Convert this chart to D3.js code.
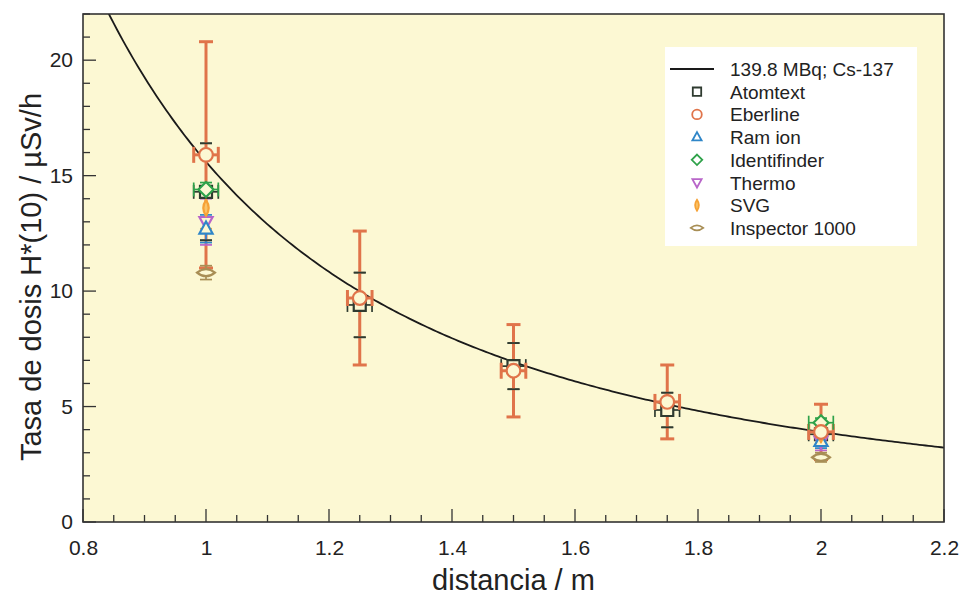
<!DOCTYPE html>
<html>
<head>
<meta charset="utf-8">
<script src="https://cdn.jsdelivr.net/npm/d3@7"></script>
<style>
  html, body { margin: 0; padding: 0; background: #ffffff; }
  svg { display: block; font-family: "Liberation Sans", Arial, Helvetica, sans-serif; }
</style>
</head>
<body>
<svg id="chart" width="971" height="601"></svg>
<script>
// ---------------- DATA ----------------
const distances = [1, 1.25, 1.5, 1.75, 2];
const instruments = ["Atomtext", "Eberline", "Ram ion", "Identifinder", "Thermo", "SVG", "Inspector 1000"];
const atomtextValues     = [14.3, 9.4, 6.75, 4.85, 3.8];
const atomtextErrors     = [2.1, 1.4, 1.0, 0.75, 0.5];
const eberlineValues     = [15.9, 9.7, 6.55, 5.2, 3.9];
const eberlineErrors     = [4.9, 2.9, 2.0, 1.6, 1.2];
const ramIonValues       = [12.7, null, null, null, 3.5];
const ramIonErrors       = [0.6, null, null, null, 0.3];
const identifinderValues = [14.4, null, null, null, 4.3];
const identifinderErrors = [0.3, null, null, null, 0.2];
const thermoValues       = [13.0, null, null, null, 3.5];
const thermoErrors       = [1.0, null, null, null, 0.4];
const svgValues          = [13.6, null, null, null, 3.8];
const svgErrors          = [0.9, null, null, null, 0.5];
const inspectorValues    = [10.8, null, null, null, 2.8];
const inspectorErrors    = [0.3, null, null, null, 0.2];
const distanceErrors     = [0.02, 0.02, 0, 0.02, 0, 0, 0]; // per instrument (m)
const curveLabel = "139.8 MBq; Cs-137";
const curveConstant = 15.6; // µSv·m²/h, inverse-square law fit
const xTicks = [0.8, 1, 1.2, 1.4, 1.6, 1.8, 2, 2.2];
const yTicks = [0, 5, 10, 15, 20];

// ---------------- STYLE ----------------
const colors = ["#2f3b30", "#e0744a", "#2f86c8", "#2fa24a", "#b865c9", "#f6a236", "#a88e55"];
const W = 971, H = 601;
const m = { left: 83, right: 944, top: 14, bottom: 522 };
const bg = "#fcf8d3";

const svg = d3.select("#chart");
svg.append("rect").attr("width", W).attr("height", H).attr("fill", "#fff");

const x = d3.scaleLinear().domain([0.8, 2.2]).range([m.left, m.right]);
const y = d3.scaleLinear().domain([0, 22]).range([m.bottom, m.top]);

svg.append("rect").attr("x", m.left).attr("y", m.top)
  .attr("width", m.right - m.left).attr("height", m.bottom - m.top)
  .attr("fill", bg);

// ticks (inward)
const minorX = d3.range(0.8, 2.2001, 0.05).map(v => +v.toFixed(2));
const minorY = d3.range(0, 22.001, 1);
const tg = svg.append("g").attr("stroke", "#333").attr("stroke-width", 1.3);
minorX.forEach(v => {
  const major = xTicks.some(t => Math.abs(t - v) < 1e-6);
  tg.append("line").attr("x1", x(v)).attr("x2", x(v))
    .attr("y1", m.bottom).attr("y2", m.bottom - (major ? 13 : 7));
});
minorY.forEach(v => {
  const major = yTicks.includes(v);
  tg.append("line").attr("y1", y(v)).attr("y2", y(v))
    .attr("x1", m.left).attr("x2", m.left + (major ? 13 : 7));
});

const xAxis = svg.append("g").attr("transform", `translate(0,${m.bottom})`)
  .call(d3.axisBottom(x).tickValues(xTicks).tickSize(0).tickPadding(18).tickFormat(d3.format("")));
const yAxis = svg.append("g").attr("transform", `translate(${m.left},0)`)
  .call(d3.axisLeft(y).tickValues(yTicks).tickSize(0).tickPadding(10).tickFormat(d3.format("")));
[xAxis, yAxis].forEach(a => {
  a.select(".domain").remove();
  a.selectAll("text").attr("font-size", 21).attr("fill", "#222")
    .attr("font-family", "'Liberation Sans', Arial, sans-serif");
});

svg.append("clipPath").attr("id", "clip").append("rect")
  .attr("x", m.left).attr("y", m.top).attr("width", m.right - m.left).attr("height", m.bottom - m.top);

// curve
const rs = d3.range(0.8, 2.2001, 0.005);
svg.append("path").attr("clip-path", "url(#clip)")
  .datum(rs)
  .attr("fill", "none").attr("stroke", "#1a1a1a").attr("stroke-width", 1.8)
  .attr("d", d3.line().x(r => x(r)).y(r => y(curveConstant / (r * r))));

function markerPath(i, s) {
  switch (i) {
    case 0: return `M${-s},${-s}H${s}V${s}H${-s}Z`;
    case 1: return d3.symbol(d3.symbolCircle, Math.PI * s * s * 1.3)();
    case 2: return `M0,${-s * 1.2}L${s * 1.1},${s * 0.8}L${-s * 1.1},${s * 0.8}Z`;
    case 3: return `M0,${-s * 1.25}L${s * 1.25},0L0,${s * 1.25}L${-s * 1.25},0Z`;
    case 4: return `M0,${s * 1.2}L${s * 1.1},${-s * 0.8}L${-s * 1.1},${-s * 0.8}Z`;
    case 5: return `M0,${-s * 1.3}Q${s * 0.9},0 0,${s * 1.3}Q${-s * 0.9},0 0,${-s * 1.3}Z`;
    case 6: return `M${-s * 1.5},0Q0,${-s * 1.2} ${s * 1.5},0Q0,${s * 1.2} ${-s * 1.5},0Z`;
  }
}

const valueSets = [atomtextValues, eberlineValues, ramIonValues, identifinderValues, thermoValues, svgValues, inspectorValues];
const errorSets = [atomtextErrors, eberlineErrors, ramIonErrors, identifinderErrors, thermoErrors, svgErrors, inspectorErrors];
const plot = svg.append("g").attr("clip-path", "url(#clip)");

// error bars layer (Atomtext bar under Eberline, its caps drawn later on top)
const barOrder = [0, 1, 6, 4, 2, 5, 3];
barOrder.forEach(i => {
  const g = plot.append("g").attr("stroke", colors[i]).attr("fill", "none");
  const sw = i === 1 ? 3 : 1.7;
  const cap = i === 1 ? 7 : 6;
  distances.forEach((d, j) => {
    const v = valueSets[i][j];
    if (v == null) return;
    const e = errorSets[i][j];
    const cx = x(d), cy = y(v);
    g.append("line").attr("x1", cx).attr("x2", cx).attr("y1", y(v + e)).attr("y2", y(v - e)).attr("stroke-width", sw);
    [v + e, v - e].forEach(t => {
      g.append("line").attr("x1", cx - cap).attr("x2", cx + cap).attr("y1", y(t)).attr("y2", y(t)).attr("stroke-width", sw);
    });
    const dx = distanceErrors[i];
    if (dx > 0) {
      g.append("line").attr("x1", x(d - dx)).attr("x2", x(d + dx)).attr("y1", cy).attr("y2", cy).attr("stroke-width", sw);
      [d - dx, d + dx].forEach(t => {
        g.append("line").attr("x1", x(t)).attr("x2", x(t)).attr("y1", cy - cap - 1).attr("y2", cy + cap + 1).attr("stroke-width", sw);
      });
    }
  });
});
// Atomtext caps on top of the Eberline bar
const capG = plot.append("g").attr("stroke", colors[0]).attr("stroke-width", 1.7);
distances.forEach((d, j) => {
  const v = atomtextValues[j], e = atomtextErrors[j];
  [v + e, v - e].forEach(t => {
    capG.append("line").attr("x1", x(d) - 6).attr("x2", x(d) + 6).attr("y1", y(t)).attr("y2", y(t));
  });
});

// markers layer
const markerOrder = [0, 6, 4, 2, 5, 3, 1];
markerOrder.forEach(i => {
  const g = plot.append("g").attr("stroke", colors[i]);
  distances.forEach((d, j) => {
    const v = valueSets[i][j];
    if (v == null) return;
    g.append("path").attr("transform", `translate(${x(d)},${y(v)})`)
      .attr("d", markerPath(i, 6)).attr("fill", i === 5 ? "#f9c46a" : bg).attr("stroke-width", 2.2);
  });
});

// frame
svg.append("rect").attr("x", m.left).attr("y", m.top)
  .attr("width", m.right - m.left).attr("height", m.bottom - m.top)
  .attr("fill", "none").attr("stroke", "#333").attr("stroke-width", 1.6);

// legend
const lg = svg.append("g");
lg.append("rect").attr("x", 665).attr("y", 47).attr("width", 252).attr("height", 199).attr("fill", "#ffffff");
const rowY = d => 69 + d * 22.7;
lg.append("line").attr("x1", 670).attr("x2", 714).attr("y1", rowY(0)).attr("y2", rowY(0))
  .attr("stroke", "#1a1a1a").attr("stroke-width", 1.8);
lg.append("text").attr("x", 730).attr("y", rowY(0) + 7).attr("font-size", 19).attr("fill", "#222").text(curveLabel);
instruments.forEach((name, i) => {
  const cy = rowY(i + 1);
  lg.append("path").attr("transform", `translate(697,${cy})`).attr("d", markerPath(i, 4.2))
    .attr("fill", i === 5 ? "#f9c46a" : "none").attr("stroke", colors[i]).attr("stroke-width", 1.8);
  lg.append("text").attr("x", 730).attr("y", cy + 7).attr("font-size", 19).attr("fill", "#222").text(name);
});

// axis titles
svg.append("text").attr("x", (m.left + m.right) / 2).attr("y", 590).attr("text-anchor", "middle")
  .attr("font-size", 29).attr("fill", "#222").text("distancia / m");
svg.append("text").attr("transform", `translate(41,277) rotate(-90)`)
  .attr("text-anchor", "middle").attr("font-size", 29).attr("fill", "#222")
  .text("Tasa de dosis H*(10) / µSv/h");
</script>
</body>
</html>
